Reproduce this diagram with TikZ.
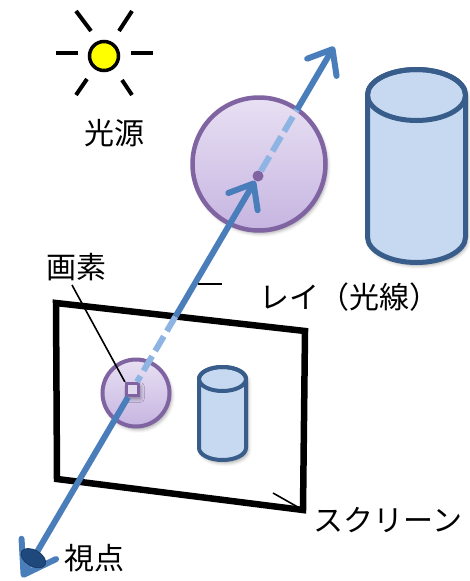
\documentclass[tikz,border=0pt]{standalone}
\usepackage{fontspec}
\newfontfamily\jpfont{Noto Sans CJK JP}
\usetikzlibrary{arrows.meta, calc, shapes.geometric, shadows.blur}

\definecolor{raysolid}{RGB}{74,126,187}
\definecolor{raylight}{RGB}{141,180,226}
\definecolor{orbedge}{RGB}{128,100,162}
\definecolor{orbtop}{RGB}{232,224,243}
\definecolor{orbbot}{RGB}{198,181,225}
\definecolor{pixfill}{RGB}{228,218,240}
\definecolor{cylfill}{RGB}{198,217,241}
\definecolor{cyledge}{RGB}{56,93,138}
\definecolor{eyeblue}{RGB}{31,73,125}
\definecolor{sunyellow}{RGB}{255,255,0}

\tikzset{
  softshadow/.style={blur shadow={shadow xshift=2pt, shadow yshift=-3pt,
      shadow blur radius=3.5pt, shadow opacity=35}},
  sunball/.style={circle, draw=black, line width=3.5pt, fill=sunyellow,
      minimum size=29pt, inner sep=0pt},
  sunray/.style={black, line width=4pt},
  orb/.style={circle, draw=orbedge, line width=4.5pt, top color=orbtop,
      bottom color=orbbot, inner sep=0pt, softshadow},
  cylbody/.style={fill=cylfill, draw=cyledge, line join=round, softshadow},
  screenline/.style={black, line width=6.5pt, line join=miter},
  pixbox/.style={rectangle, draw=orbedge, line width=2.8pt, fill=pixfill,
      minimum size=12.5pt, inner sep=0pt, softshadow},
  hitdot/.style={circle, fill=orbedge, minimum size=11pt, inner sep=0pt},
  ray/.style={raysolid, line width=6pt},
  raybehind/.style={raylight, line width=6pt, dash pattern=on 17pt off 6pt},
  rayhead/.style={-{Straight Barb[length=21pt, width=34pt, round]}},
  bigrayhead/.style={-{Straight Barb[length=30pt, width=40pt, round]}},
  eyeball/.style={ellipse, fill=eyeblue, draw=eyeblue!80!black, line width=0.8pt,
      minimum width=27pt, minimum height=16pt, inner sep=0pt},
  tag/.style={font=\jpfont\fontsize{30}{30}\selectfont, inner sep=0pt},
  leader/.style={black, line width=1.6pt},
}

\begin{document}
\begin{tikzpicture}[x=1pt, y=-1pt]
\useasboundingbox (0,0) rectangle (470,581);

% light source
\node[sunball] (sun) at (104,56) {};
\draw[sunray] (56,53) -- (78,53);
\draw[sunray] (131,53) -- (153,53);
\draw[sunray] (76,11) -- (91,31);
\draw[sunray] (132,11) -- (119,31);
\draw[sunray] (87,79) -- (76,95);
\draw[sunray] (122,80) -- (132,95);
\node[tag] (srclabel) at (114,133) {光源};

% large cylinder
\path[cylbody, line width=5pt]
  (367.5,95) -- (367.5,237)
  arc[start angle=180, end angle=0, x radius=49, y radius=25.5]
  -- (465.5,95)
  arc[start angle=0, end angle=-180, x radius=49, y radius=25.5] -- cycle;
\draw[cyledge, line width=5pt] (416.5,95) ellipse[x radius=49, y radius=25.5];

% large sphere
\node[orb, minimum size=133pt] (bigorb) at (259,164) {};

% screen frame
\coordinate (sTL) at (56,303);
\coordinate (sTR) at (305,331);
\coordinate (sBR) at (303,510);
\coordinate (sBL) at (57,479);
\draw[screenline] (sTL) -- (sTR) -- (sBR) -- (sBL) -- cycle;

% small cylinder
\path[cylbody, line width=4pt]
  (199,379) -- (199,448)
  arc[start angle=180, end angle=0, x radius=23.5, y radius=12]
  -- (246,379)
  arc[start angle=0, end angle=-180, x radius=23.5, y radius=12] -- cycle;
\draw[cyledge, line width=4pt] (222.5,379) ellipse[x radius=23.5, y radius=12];

% small sphere (projection on the screen)
\node[orb, minimum size=67pt, line width=4pt] (smallorb) at (136,393) {};

% pixel and hit point
\coordinate (pixc) at (132.5,389.5);
\coordinate (hitc) at (258,176);
\node[pixbox] (pix) at (pixc) {};
\node[hitdot] (hit) at (hitc) {};

% points along the ray
\coordinate (cross) at (intersection of pixc--hitc and sTL--sTR);
\coordinate (toptip) at ($(pixc)!1.606!(hitc)$);
\coordinate (exit) at ($(hitc)!77pt!(toptip)$);
\coordinate (lowtip) at ($(pixc)!-0.88!(hitc)$);

% the ray
\draw[raybehind] (cross) -- (pix);
\draw[ray, rayhead] (cross) -- (hit);
\draw[raybehind] (hit) -- (exit);
\draw[ray, rayhead] (exit) -- (toptip);
\draw[ray, bigrayhead] (pix) -- (lowtip);

% viewpoint
\node[eyeball, rotate=-30] (eye) at ($(pixc)!-0.79!(hitc)$) {};

% labels
\node[tag] (pixlabel) at (76,267) {画素};
\draw[leader] ([xshift=-4pt, yshift=-4pt]pixlabel.south) -- (pix.north west);

\node[tag] (raylabel) at (349,297) {レイ（光線）};
\coordinate (raytagA) at (198,284);
\coordinate (raytagB) at (222,284);
\draw[leader] (raytagA) -- (raytagB);

\node[tag] (scrlabel) at (388,520) {スクリーン};
\coordinate (scrtag) at (273,493);
\draw[leader] (scrtag) -- (sBR);

\node[tag] (eyelabel) at (94,558) {視点};
\end{tikzpicture}
\end{document}
